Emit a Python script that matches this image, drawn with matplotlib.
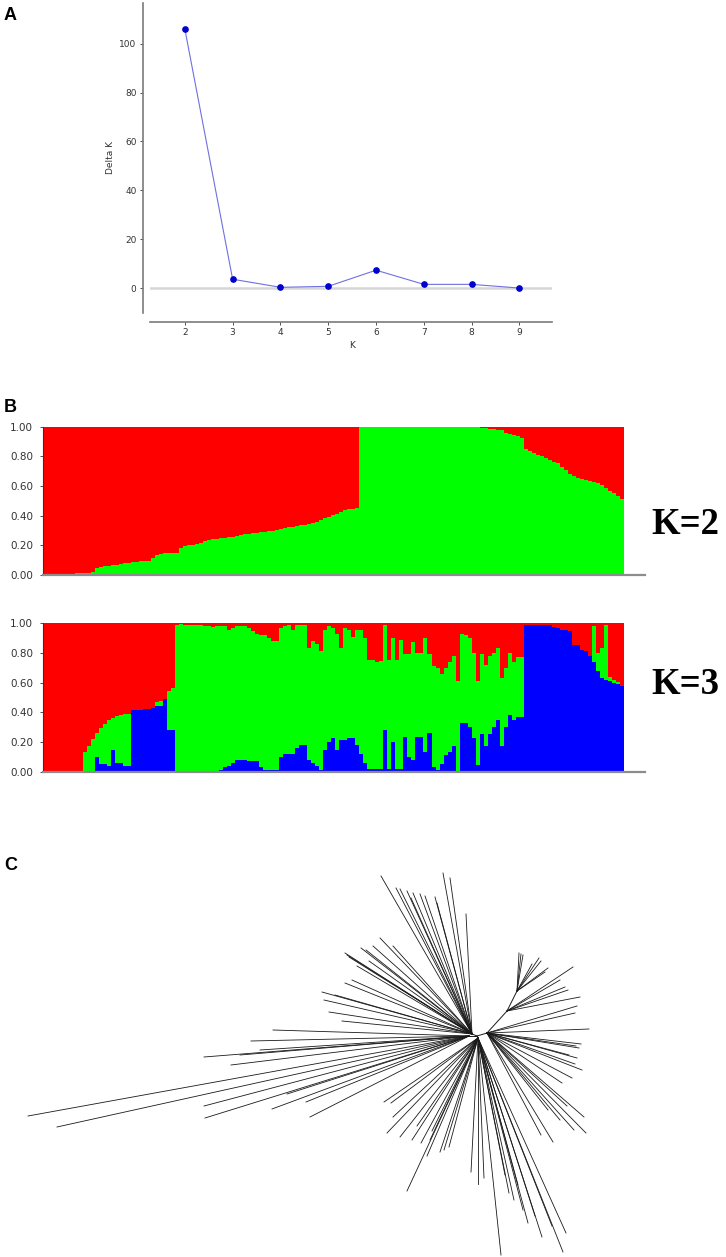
import matplotlib
matplotlib.use("Agg")
import matplotlib.pyplot as plt
import numpy as np

# ---------------- Panel A data ----------------
k_values = [2, 3, 4, 5, 6, 7, 8, 9]
delta_k = [106.0, 3.7, 0.4, 0.8, 7.4, 1.6, 1.6, 0.1]
a_yticks = [0, 20, 40, 60, 80, 100]

# ---------------- Panel B data (membership per individual) ----------------
k2_green = [
    0.0, 0.002, 0.004, 0.005, 0.006, 0.007, 0.008, 0.01, 0.012, 0.013,
    0.015, 0.016, 0.02, 0.05, 0.055, 0.058, 0.062, 0.065, 0.07, 0.075,
    0.08, 0.083, 0.088, 0.09, 0.093, 0.095, 0.097, 0.115, 0.135, 0.142,
    0.145, 0.147, 0.15, 0.15, 0.185, 0.195, 0.2, 0.205, 0.21, 0.218,
    0.226, 0.235, 0.243, 0.246, 0.249, 0.252, 0.254, 0.258, 0.263, 0.268,
    0.274, 0.278, 0.281, 0.284, 0.288, 0.291, 0.295, 0.3, 0.306, 0.312,
    0.317, 0.322, 0.326, 0.331, 0.335, 0.34, 0.345, 0.348, 0.36, 0.372,
    0.383, 0.392, 0.402, 0.414, 0.426, 0.436, 0.442, 0.446, 0.45,
    1.0, 1.0, 1.0, 1.0, 1.0, 1.0, 1.0, 1.0, 1.0, 1.0,
    1.0, 1.0, 1.0, 1.0, 1.0, 1.0, 1.0, 1.0, 1.0, 1.0, 0.998,
    0.997, 0.997, 0.997, 0.997, 0.997, 0.997, 0.997, 0.997, 0.997,
    0.99, 0.988, 0.985, 0.982, 0.98, 0.975,
    0.96, 0.95, 0.945, 0.935, 0.925,
    0.85, 0.835, 0.82, 0.81, 0.80, 0.79, 0.775, 0.765, 0.755, 0.73,
    0.705, 0.68, 0.665, 0.654, 0.645, 0.64, 0.635, 0.628, 0.62, 0.61,
    0.59, 0.565, 0.55, 0.535, 0.515,
]

k3_blue = [
    0, 0, 0, 0, 0, 0, 0, 0, 0, 0,
    0, 0, 0, 0.1, 0.05, 0.05, 0.04, 0.146, 0.056, 0.056,
    0.034, 0.034, 0.416, 0.416, 0.416, 0.42, 0.42, 0.43, 0.44, 0.44,
    0.49, 0.28, 0.28, 0, 0, 0, 0, 0, 0, 0,
    0.005, 0.005, 0.005, 0.005, 0.01, 0.03, 0.04, 0.06, 0.08, 0.08,
    0.08, 0.07, 0.07, 0.07, 0.03, 0.01, 0.01, 0.01, 0.01, 0.1,
    0.12, 0.12, 0.12, 0.16, 0.18, 0.18, 0.08, 0.056, 0.04, 0.01,
    0.146, 0.2, 0.225, 0.146, 0.21, 0.21, 0.225, 0.225, 0.18, 0.12,
    0.06, 0.02, 0.02, 0.02, 0.02, 0.28, 0.02, 0.2, 0.02, 0.02,
    0.236, 0.1, 0.08, 0.236, 0.236, 0.13, 0.26, 0.03, 0.01, 0.05,
    0.11, 0.13, 0.17, 0.0, 0.33, 0.33, 0.30, 0.225, 0.045, 0.25,
    0.17, 0.25, 0.30, 0.35, 0.17, 0.30, 0.38, 0.35, 0.37, 0.37,
    0.99, 0.99, 0.99, 0.99, 0.99, 0.99, 0.985, 0.975, 0.965, 0.955,
    0.955, 0.95, 0.855, 0.855, 0.82, 0.81, 0.78, 0.74, 0.68, 0.63,
    0.62, 0.61, 0.60, 0.59, 0.575,
]

k3_green = [
    0, 0, 0, 0, 0, 0, 0, 0, 0, 0,
    0.13, 0.17, 0.22, 0.16, 0.24, 0.27, 0.305, 0.214, 0.319, 0.324,
    0.353, 0.353, 0, 0, 0, 0, 0, 0, 0.03, 0.035,
    0, 0.26, 0.28, 0.99, 0.995, 0.99, 0.99, 0.99, 0.985, 0.985,
    0.975, 0.975, 0.97, 0.975, 0.97, 0.95, 0.915, 0.91, 0.90, 0.90,
    0.90, 0.90, 0.88, 0.86, 0.89, 0.91, 0.89, 0.87, 0.87, 0.87,
    0.86, 0.87, 0.835, 0.83, 0.81, 0.81, 0.75, 0.824, 0.82, 0.80,
    0.809, 0.78, 0.745, 0.784, 0.62, 0.76, 0.73, 0.685, 0.775, 0.835,
    0.84, 0.73, 0.73, 0.72, 0.725, 0.71, 0.73, 0.70, 0.73, 0.87,
    0.554, 0.69, 0.79, 0.564, 0.564, 0.77, 0.53, 0.68, 0.69, 0.61,
    0.59, 0.61, 0.61, 0.61, 0.60, 0.59, 0.60, 0.575, 0.565, 0.54,
    0.55, 0.53, 0.50, 0.48, 0.46, 0.40, 0.42, 0.39, 0.40, 0.40,
    0, 0, 0, 0, 0, 0, 0, 0, 0, 0,
    0, 0, 0, 0, 0, 0, 0, 0.24, 0.12, 0.20,
    0.37, 0.03, 0.02, 0.015, 0,
]
b_yticks = [0.0, 0.2, 0.4, 0.6, 0.8, 1.0]

# ---------------- Panel C data (unrooted tree layout) ----------------
node_x = [0, -5, -8, 1, 10, 30, 40]
node_y = [0, 2, 0, -2, 3, 25, 45]
node_parent = [-1, 0, 0, 0, 0, 4, 5]

leaf_x = [
    -96, -81, -77, -70, -64, -57, -52, -42, -40, -34, -27, -11, -66,
    -132, -130, -128, -116, -111, -104, -97, -84, -132, -125, -155, -153, -148, -135, -142, -120, -108,
    -204, -226, -273, -246, -449, -420, -273, -272, -205, -171, -167, -217, -237, -190,
    -93, -86, -84, -90, -77, -65, -56, -37, -33, -28, -70, -47, -60, -50, -45,
    -6, 1, 7, 24, 32, 37, 46, 51, 65, 89, 86, 41, 28, 58, 75,
    107, 109, 97, 76, 64, 83, 71, 90,
    104, 102, 99, 92, 105, 95, 85, 98, 100, 112, 98, 100,
    103, 88, 96, 91, 83,
    42, 44, 46, 62, 64, 71, 68, 55,
]
leaf_y = [
    160, 148, 147, 145, 143, 142, 140, 139, 133, 163, 158, 122, 138,
    83, 81, 79, 88, 86, 90, 98, 90, 53, 56, 44, 36, 24, 15, 41, 70, 75,
    6, -5, -21, -29, -80, -91, -70, -82, -73, -66, -81, -14, -19, -58,
    -66, -67, -81, -97, -101, -104, -107, -116, -114, -111, -155, -104, -90, -120, -95,
    -136, -148, -142, -219, -157, -164, -174, -187, -201, -197, -216, -149, -139, -180, -190,
    -81, -97, -94, -106, -99, -84, -74, -70,
    -8, -12, -10, -19, -34, -42, -47, -28, -22, 7, 23, 30,
    39, 49, 69, 46, 56,
    83, 82, 81, 78, 75, 68, 64, 72,
]
leaf_parent = (
    [1] * 13 + [1] * 17 + [2] * 14 + [3] * 15 + [3] * 15 + [4] * 8 + [4] * 12
    + [5] * 5 + [6] * 8
)

W, H = 726, 1257
fig = plt.figure(figsize=(W / 100, H / 100), dpi=100)
fig.patch.set_facecolor("white")

# ---------------- Panel A ----------------
axA = fig.add_axes([150.4 / W, 1 - 313 / H, (552 - 150.4) / W, 310 / H])
axA.axhline(0, color="#d6d6d6", lw=1.8, zorder=1)
axA.plot(k_values, delta_k, color="#7070e0", lw=0.8, marker="o", ms=3.8,
         mfc="#0000cc", mec="#0000cc", zorder=3)
axA.set_xlim(1.28, 9.68)
axA.set_ylim(-10.1, 116.6)
for s in ["top", "right"]:
    axA.spines[s].set_visible(False)
axA.spines["left"].set_position(("outward", 5.5))
axA.spines["bottom"].set_position(("outward", 6.5))
for s in ["left", "bottom"]:
    axA.spines[s].set_color("#7a7a7a")
    axA.spines[s].set_linewidth(1.2)
axA.set_xticks(k_values)
axA.set_yticks(a_yticks)
axA.tick_params(labelsize=6.5, colors="#333333", length=2.5, width=0.6, pad=2)
axA.set_ylabel("Delta K", fontsize=6.5, color="#333333")
axA.yaxis.set_label_coords(-0.088, 0.5)
axA.set_xlabel("K", fontsize=6.5, color="#333333")
axA.xaxis.set_label_coords(0.502, -0.09)


# ---------------- Panel B ----------------
def structure_axes(bottom_px, layers):
    ax = fig.add_axes([43.3 / W, 1 - bottom_px / H, 601.7 / W, 148.3 / H])
    n = len(layers[0][0])
    edges = np.arange(n + 1)
    base = np.zeros(n)
    for vals, col in layers:
        v = np.asarray(vals, dtype=float)
        top = base + v
        ax.fill_between(edges, np.append(base, base[-1]), np.append(top, top[-1]),
                        step="post", color=col, lw=0)
        base = top
    ax.set_xlim(0, n * 601.7 / 580.3)
    ax.set_ylim(0, 1)
    for s in ["top", "right"]:
        ax.spines[s].set_visible(False)
    ax.spines["left"].set_color("#333333")
    ax.spines["left"].set_linewidth(0.8)
    ax.spines["bottom"].set_color("#8c8c8c")
    ax.spines["bottom"].set_linewidth(1.6)
    ax.set_xticks([])
    ax.set_yticks(b_yticks)
    ax.set_yticklabels(["%.2f" % t for t in b_yticks])
    ax.tick_params(axis="y", labelsize=7.5, colors="#333333", length=2.5, width=0.6, pad=5)
    return ax


k2_red = [1 - g for g in k2_green]
structure_axes(575, [(k2_green, "#00ff00"), (k2_red, "#ff0000")])

k3_red = [1 - b - g for b, g in zip(k3_blue, k3_green)]
structure_axes(771.5, [(k3_blue, "#0000ff"), (k3_green, "#00ff00"), (k3_red, "#ff0000")])

fig.text(651 / W, 1 - 534 / H, "K=2", family="Liberation Serif", fontweight="bold",
         fontsize=26.5, ha="left", va="baseline")
fig.text(651 / W, 1 - 694 / H, "K=3", family="Liberation Serif", fontweight="bold",
         fontsize=26.5, ha="left", va="baseline")

# ---------------- Panel C ----------------
axC = fig.add_axes([0, 0, 1, (H - 860) / H])
axC.set_xlim(-477, W - 477)
axC.set_ylim(1036 - H, 1036 - 860)
axC.axis("off")
for i, p in enumerate(node_parent):
    if p >= 0:
        axC.plot([node_x[p], node_x[i]], [node_y[p], node_y[i]], color="#1a1a1a", lw=0.7)
for lx, ly, p in zip(leaf_x, leaf_y, leaf_parent):
    axC.plot([node_x[p], lx], [node_y[p], ly], color="#1a1a1a", lw=0.6)

# ---------------- Panel letters ----------------
for letter, ypx in [("A", 20), ("B", 412), ("C", 870)]:
    fig.text(4 / W, 1 - ypx / H, letter, family="Liberation Sans", fontweight="bold",
             fontsize=13, ha="left", va="baseline")

fig.savefig("out.png", dpi=100, facecolor="white")
